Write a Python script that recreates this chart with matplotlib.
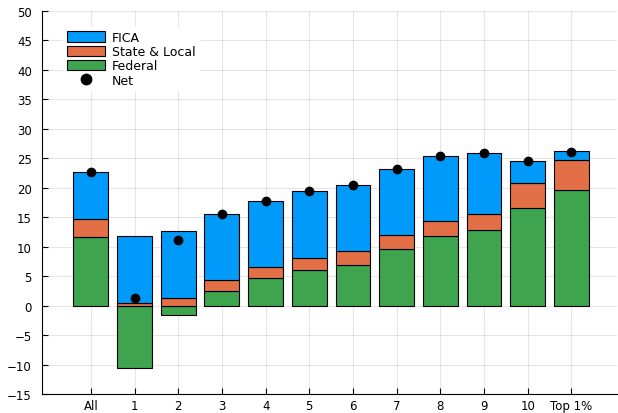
import numpy as np
import matplotlib
matplotlib.use("Agg")
from matplotlib import pyplot as plt
from matplotlib.patches import Patch
from matplotlib.lines import Line2D

# tax rates by income group (percent)
groups = ['All', '1', '2', '3', '4', '5', '6', '7', '8', '9', '10', 'Top 1%']
federal = [11.7, -10.6, -1.65, 2.45, 4.6, 6.05, 6.95, 9.5, 11.85, 12.8, 16.5, 19.6]
state_local = [3.0, 0.35, 1.3, 1.85, 1.9, 1.95, 2.3, 2.4, 2.45, 2.7, 4.3, 5.0]
fica = [8.0, 11.45, 11.4, 11.3, 11.3, 11.4, 11.25, 11.2, 11.05, 10.4, 3.7, 1.6]
net = [22.7, 1.2, 11.1, 15.6, 17.8, 19.4, 20.5, 23.1, 25.3, 25.9, 24.5, 26.1]

blue = '#009AFA'
orange = '#E26F46'
green = '#3EA44E'

x = np.arange(1, len(groups) + 1)
fed = np.array(federal)
sl = np.array(state_local)
base = np.clip(fed, 0, None)  # positive parts stack from zero

fig = plt.figure(figsize=(6.18, 4.14), dpi=100)
ax = fig.add_axes([0.0675, 0.0459, 0.9325 - 0.002, 0.926])

w = 0.8
ec = dict(edgecolor='black', linewidth=0.8)
ax.bar(x, fed, w, color=green, zorder=3, **ec)
ax.bar(x, sl, w, bottom=base, color=orange, zorder=3, **ec)
ax.bar(x, fica, w, bottom=base + sl, color=blue, zorder=3, **ec)
ax.scatter(x, net, s=36, color='black', zorder=4)

ax.set_xlim(-0.127, 13.04)
ax.set_ylim(-15, 50)
ax.set_xticks(x)
ax.set_xticklabels(groups)
ax.set_yticks(np.arange(-15, 51, 5))
ax.grid(True, color='black', alpha=0.1, linewidth=0.8, zorder=0)
for s in ['top', 'right']:
    ax.spines[s].set_visible(False)
ax.tick_params(direction='in', length=4, labelsize=8.5, colors='black')
ax.tick_params(axis='y', pad=7)
ax.tick_params(axis='x', pad=3.5)
ax.yaxis.set_major_formatter(matplotlib.ticker.FuncFormatter(lambda v, p: ('\u2212' if v < 0 else '') + '%d' % abs(v)))

handles = [Patch(facecolor=blue, edgecolor='black', linewidth=0.8),
           Patch(facecolor=orange, edgecolor='black', linewidth=0.8),
           Patch(facecolor=green, edgecolor='black', linewidth=0.8),
           Line2D([], [], marker='o', color='black', linestyle='none', markersize=7.5)]
leg = ax.legend(handles, ['FICA', 'State & Local', 'Federal', 'Net'],
                loc='upper left', bbox_to_anchor=(0.026, 0.973), fontsize=9,
                frameon=True, fancybox=False, edgecolor='white', framealpha=1,
                handlelength=3.1, handleheight=0.9, labelspacing=0.1,
                handletextpad=0.5, borderpad=0.3)
leg.set_zorder(5)

fig.savefig('out.png', dpi=100)
